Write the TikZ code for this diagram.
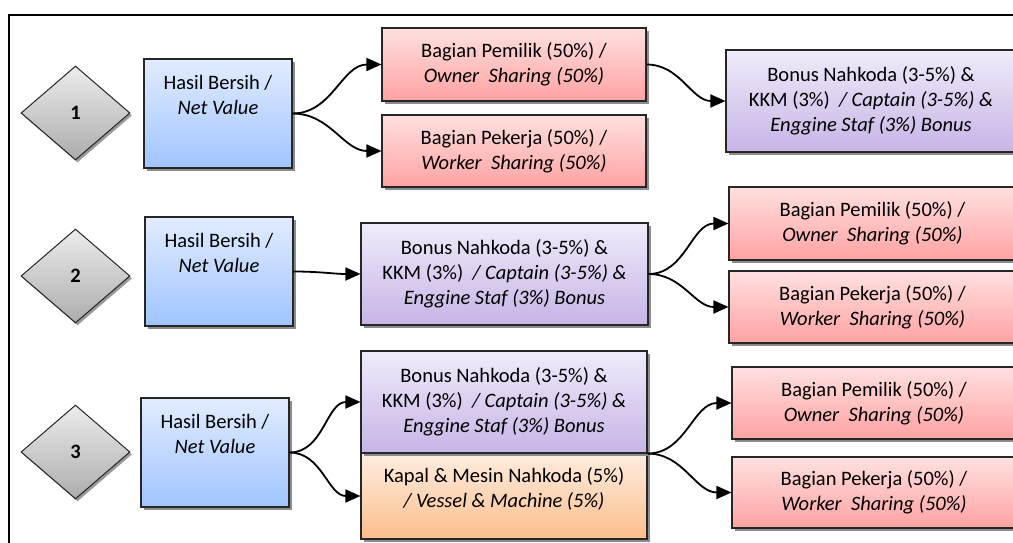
\documentclass[tikz,border=0pt]{standalone}
\usepackage{fontspec}
\setmainfont{Carlito}
\usetikzlibrary{shapes.geometric,shadows,arrows.meta,positioning}

\definecolor{nettop}{RGB}{226,236,255}
\definecolor{netbot}{RGB}{160,196,255}
\definecolor{sharetop}{RGB}{255,224,224}
\definecolor{sharebot}{RGB}{255,162,162}
\definecolor{bonustop}{RGB}{240,235,250}
\definecolor{bonusbot}{RGB}{198,180,230}
\definecolor{vesseltop}{RGB}{255,237,224}
\definecolor{vesselbot}{RGB}{250,190,140}
\definecolor{steptop}{RGB}{236,236,236}
\definecolor{stepbot}{RGB}{172,172,172}

\begin{document}
\begin{tikzpicture}[x=1pt,y=-1pt,
	font=\fontsize{20.5}{25}\selectfont,
	>={Triangle[length=15pt,width=13pt]},
	link/.style={->,line width=1.8pt},
	box/.style={rectangle,draw=black!85,line width=1.1pt,align=center,inner sep=0pt,
		drop shadow={shadow xshift=2.5pt,shadow yshift=-3pt,fill=black!45,opacity=1}},
	netbox/.style={box,top color=nettop,bottom color=netbot,minimum width=148pt,minimum height=109pt},
	sharebox/.style={box,top color=sharetop,bottom color=sharebot,minimum height=72pt},
	bonusbox/.style={box,top color=bonustop,bottom color=bonusbot,minimum height=102pt},
	vesselbox/.style={box,top color=vesseltop,bottom color=vesselbot,minimum height=86pt},
	stepmark/.style={diamond,draw=black!85,line width=1pt,inner sep=0pt,
		minimum width=109pt,minimum height=94pt,font=\fontsize{20.5}{25}\bfseries,
		top color=steptop,bottom color=stepbot,
		drop shadow={shadow xshift=2pt,shadow yshift=-2.5pt,fill=black!40,opacity=1}},
	txt/.style={align=center,inner sep=0pt}]
	\useasboundingbox (0,0) rectangle (1013,543);
	\clip (0,0) rectangle (1013,543);
	\draw[line width=2pt] (9,15) rectangle (1040,570);

	% 1
	\node[stepmark] (d1) at (75.5,113) {1};
	\node[netbox] (hb1) at (218,113.5) {};
	\node[txt, below=17pt of hb1.north] (hbt1) {Hasil Bersih /\\ \textit{Net Value}};
	\node[sharebox, minimum width=264pt, minimum height=73pt] (own1) at (514,64.5) {Bagian Pemilik (50\%) /\\ \textit{Owner~ Sharing (50\%)}};
	\node[sharebox, minimum width=264pt] (wrk1) at (514,151) {Bagian Pekerja (50\%) /\\ \textit{Worker~ Sharing (50\%)}};
	\node[bonusbox, minimum width=290pt] (bon1) at (871,101) {Bonus Nahkoda (3-5\%) \&\\ KKM (3\%)~ \textit{/ Captain (3-5\%) \&}\\ \textit{Enggine Staf (3\%) Bonus}};
	\draw[link] (hb1.east) to[out=0,in=180] (own1.west);
	\draw[link] (hb1.east) to[out=0,in=180] (wrk1.west);
	\draw[link] (own1.east) to[out=0,in=180] (bon1.west);

	% 2
	\node[stepmark] (d2) at (75.5,276) {2};
	\node[netbox] (hb2) at (219,271.5) {};
	\node[txt, below=17pt of hb2.north] (hbt2) {Hasil Bersih /\\ \textit{Net Value}};
	\node[bonusbox, minimum width=287pt] (bon2) at (504.5,274) {Bonus Nahkoda (3-5\%) \&\\ KKM (3\%)~ \textit{/ Captain (3-5\%) \&}\\ \textit{Enggine Staf (3\%) Bonus}};
	\node[sharebox, minimum width=287pt, minimum height=73pt] (own2) at (872.5,223.5) {Bagian Pemilik (50\%) /\\ \textit{Owner~ Sharing (50\%)}};
	\node[sharebox, minimum width=287pt] (wrk2) at (872.5,307) {Bagian Pekerja (50\%) /\\ \textit{Worker~ Sharing (50\%)}};
	\draw[link] (hb2.east) to[out=0,in=180] (bon2.west);
	\draw[link] (bon2.east) to[out=0,in=180] (own2.west);
	\draw[link] (bon2.east) to[out=0,in=180] (wrk2.west);

	% 3
	\node[stepmark] (d3) at (75.5,452) {3};
	\node[netbox] (hb3) at (215,452.5) {};
	\node[txt, below=17pt of hb3.north] (hbt3) {Hasil Bersih /\\ \textit{Net Value}};
	\node[vesselbox, minimum width=286pt] (kap3) at (504,496) {};
	\node[txt, below=15pt of kap3.north] (kapt3) {Kapal \& Mesin Nahkoda (5\%)\\ \textit{/ Vessel \& Machine (5\%)}};
	\node[bonusbox, minimum width=286pt] (bon3) at (504,402) {Bonus Nahkoda (3-5\%) \&\\ KKM (3\%)~ \textit{/ Captain (3-5\%) \&}\\ \textit{Enggine Staf (3\%) Bonus}};
	\node[sharebox, minimum width=284pt] (own3) at (874,403) {Bagian Pemilik (50\%) /\\ \textit{Owner~ Sharing (50\%)}};
	\node[sharebox, minimum width=284pt, minimum height=71pt] (wrk3) at (874,492.5) {Bagian Pekerja (50\%) /\\ \textit{Worker~ Sharing (50\%)}};
	\draw[link] (hb3.east) to[out=0,in=180] (bon3.west);
	\draw[link] (hb3.east) to[out=0,in=180] (kap3.west);
	\draw[link] (bon3.south east) to[out=0,in=180] (own3.west);
	\draw[link] (bon3.south east) to[out=0,in=180] (wrk3.west);
\end{tikzpicture}
\end{document}
